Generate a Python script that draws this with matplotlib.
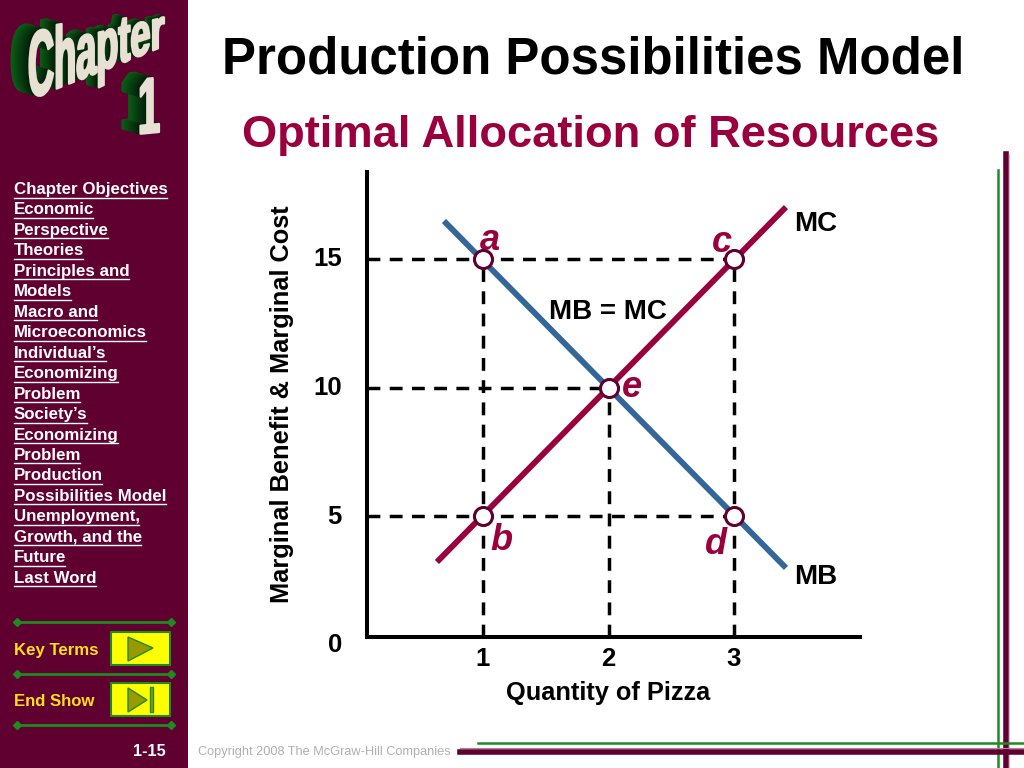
import matplotlib
matplotlib.use("Agg")
import matplotlib.pyplot as plt
import matplotlib.patheffects as pe
import matplotlib.colors as mcolors
from matplotlib.patches import Rectangle, Polygon
from matplotlib.path import Path
from matplotlib.transforms import IdentityTransform, ScaledTranslation

plt.rcParams['font.family'] = ['Liberation Sans', 'DejaVu Sans']
plt.rcParams['font.weight'] = 'bold'

# data
mc_x = [0.633, 3.414]
mc_y = [3.21, 17.02]
mb_x = [0.689, 3.414]
mb_y = [16.48, 2.98]
point_names = ['a', 'c', 'e', 'b', 'd']
point_x = [1, 3, 2, 1, 3]
point_y = [15, 15, 10, 5, 5]
x_ticks = [1, 2, 3]
y_ticks = [0, 5, 10, 15]
menu_items = ['Chapter Objectives', 'Economic', 'Perspective', 'Theories', 'Principles and',
              'Models', 'Macro and', 'Microeconomics', 'Individual\u2019s', 'Economizing',
              'Problem', 'Society\u2019s', 'Economizing', 'Problem', 'Production',
              'Possibilities Model', 'Unemployment,', 'Growth, and the', 'Future', 'Last Word']

WINE = '#5f0030'
RED = '#99003d'
BLUE = '#336699'
GREEN = '#1f8a1f'
H = 768


class Warp(pe.AbstractPathEffect):
    # bends a text into the perspective look of the logo, u runs 0..1 along the word
    def __init__(self, span, base, scale, depth, frac=0.0, color=None):
        self.span, self.base, self.scale, self.depth = span, base, scale, depth
        self.frac, self.color = frac, color

    def draw_path(self, renderer, gc, tpath, affine, rgbFace=None):
        v = affine.transform(tpath.vertices)
        u = (v[:, 0] - v[:, 0].min()) / (v[:, 0].max() - v[:, 0].min())
        y0 = affine.transform([[0, 0]])[0, 1]
        x = self.span[0] + u * (self.span[1] - self.span[0])
        b = H - (self.base[0] + u * (self.base[1] - self.base[0]))
        s = self.scale[0] + u * (self.scale[1] - self.scale[0])
        d = self.depth[0] + u * (self.depth[1] - self.depth[0])
        v[:, 0] = x - d * self.frac
        v[:, 1] = b + (v[:, 1] - y0) * s + d * 0.3 * self.frac
        col = self.color if self.color is not None else rgbFace
        # a thin outline makes the narrowed letters as heavy as the block letters
        gc0 = renderer.new_gc()
        gc0.copy_properties(gc)
        gc0.set_linewidth(1.6)
        gc0.set_foreground(col)
        renderer.draw_path(gc0, Path(v, tpath.codes), IdentityTransform(), col)
        gc0.restore()


def logo_text(label, x, y, span, base, scale, depth):
    fx = []
    for i in range(16, 0, -1):
        frac = i / 16
        col = tuple((1 - frac) * p + frac * q for p, q in zip(mcolors.to_rgb('#021c08'), mcolors.to_rgb('#0b5c16')))
        fx.append(Warp(span, base, scale, depth, frac=frac, color=col))
    fx.append(Warp(span, base, scale, depth))
    t = bg.text(x, y, label, color='#e6e1d3', fontsize=20, ha='left', va='baseline')
    t.set_path_effects(fx)


fig = plt.figure(figsize=(10.24, 7.68), dpi=100, facecolor='white')

# background layer in pixel coords
bg = fig.add_axes([0, 0, 1, 1])
bg.set_xlim(0, 1024)
bg.set_ylim(768, 0)
bg.axis('off')

bg.add_patch(Rectangle((0, 0), 188, 768, color=WINE, lw=0))

# frame lines on the right and bottom
bg.plot([997.5, 997.5], [170, 768], color=GREEN, lw=1.8)
bg.plot([1005.5, 1005.5], [154, 768], color=WINE, lw=4)
bg.plot([1009, 1009], [154, 768], color='#e8b8d0', lw=0.8)
bg.plot([478, 1024], [742.5, 742.5], color=GREEN, lw=1.8)
bg.plot([460, 1024], [752, 752], color=WINE, lw=4)
bg.plot([460, 1024], [748, 748], color='#b08098', lw=0.8)

# Chapter 1 logo
logo_text('Chapter', 40, 75, (28, 164), (100, 46), (3.5, 1.94), (18, 6))
logo_text('1', 140, 125, (138, 159), (134, 132), (2.85, 2.85), (18, 18))

# sidebar menu
fig.canvas.draw()
renderer = fig.canvas.get_renderer()
for i, item in enumerate(menu_items):
    y = 194 + i * 20.46
    t = bg.text(14, y, item, color='white', fontsize=12.2, ha='left', va='baseline')
    w = t.get_window_extent(renderer).width
    bg.plot([14, 14 + w - 1], [y + 3.5, y + 3.5], color='white', lw=1)

# sidebar separators
for y in [622, 674, 725]:
    bg.plot([17, 171], [y, y], color=GREEN, lw=2)
    bg.plot([17, 171], [y, y], color=GREEN, lw=0, marker='D', markersize=4.5)

bg.text(14, 654.5, 'Key Terms', color='#ffe01a', fontsize=12.1)
bg.text(14, 706, 'End Show', color='#ffe01a', fontsize=12.1)
bg.text(133, 756, '1-15', color='white', fontsize=11.8)

bg.add_patch(Rectangle((111, 632), 59, 33, fc='#ffff00', ec=GREEN, lw=1.5))
bg.add_patch(Polygon([(128, 637), (128, 661), (153, 648)], fc='#999900', ec=GREEN, lw=1))
bg.add_patch(Rectangle((111, 683), 59, 33, fc='#ffff00', ec=GREEN, lw=1.5))
bg.add_patch(Polygon([(128, 688), (128, 712), (147, 700)], fc='#999900', ec=GREEN, lw=1))
bg.add_patch(Rectangle((150, 687), 3, 25, fc='#999900', ec=GREEN, lw=1))

# titles
bg.text(593, 73, 'Production Possibilities Model', color='black', fontsize=36.7, ha='center', va='baseline')
bg.text(591, 147, 'Optimal Allocation of Resources', color=RED, fontsize=32.6, ha='center', va='baseline')
bg.text(198, 755, 'Copyright 2008 The McGraw-Hill Companies', color='#b0b0b0', fontsize=9.15, fontweight='normal')

# chart axes: data origin sits at pixel (357.5, 644.5), the drawn axes a bit inside it
ax = fig.add_axes([357.5 / 1024, 1 - 644.5 / 768, 502.5 / 1024, 472.5 / 768])
ax.patch.set_alpha(0)
xmax, ymax = 502.5 / 125.5, 472.5 / 25.7
x_axis_at, y_axis_at = 0.0757, 0.292
ax.set_xlim(0, xmax)
ax.set_ylim(0, ymax)
for s in ['top', 'right']:
    ax.spines[s].set_visible(False)
ax.spines['left'].set_position(('data', x_axis_at))
ax.spines['left'].set_bounds(y_axis_at, ymax)
ax.spines['bottom'].set_position(('data', y_axis_at))
ax.spines['bottom'].set_bounds(x_axis_at, xmax)
for s in ['left', 'bottom']:
    ax.spines[s].set_linewidth(2.9)
ax.set_xticks(x_ticks)
ax.set_yticks(y_ticks)
ax.tick_params(length=0, labelsize=18.5)
ax.tick_params(axis='y', pad=18)
ax.tick_params(axis='x', pad=7)
lift = ScaledTranslation(0, 2 / 100, fig.dpi_scale_trans)
for lab in ax.get_yticklabels():
    lab.set_transform(lab.get_transform() + lift)
ax.set_xlabel('Quantity of Pizza', fontsize=18.3, fontweight='bold')
ax.set_ylabel('Marginal Benefit & Marginal Cost', fontsize=18.3, fontweight='bold')
ax.xaxis.set_label_coords(0.4985, -0.077)
ax.yaxis.set_label_coords(-0.126, 0.509)

# dashed guides
dash = (0, (3.7, 2.7))
for v in [5, 10, 15]:
    ax.plot([x_axis_at, max(px for px, py in zip(point_x, point_y) if py == v)], [v, v],
            color='black', lw=2.5, ls=dash, zorder=2)
for v in x_ticks:
    ax.plot([v, v], [y_axis_at, max(py for px, py in zip(point_x, point_y) if px == v)],
            color='black', lw=2.5, ls=dash, zorder=2)

ax.plot(mc_x, mc_y, color=RED, lw=4.2, solid_capstyle='butt', zorder=3)
ax.plot(mb_x, mb_y, color=BLUE, lw=4.2, solid_capstyle='butt', zorder=4)
ax.plot(point_x, point_y, ls='none', marker='o', ms=13, mfc='white', mec=WINE, mew=2.2, zorder=5, clip_on=False)

# point letters
letter_off = {'a': (7, 18), 'c': (-12, 16), 'e': (23, 0), 'b': (18, -24), 'd': (-18, -29)}
for name, px, py in zip(point_names, point_x, point_y):
    ax.annotate(name, (px, py), xytext=letter_off[name], textcoords='offset pixels', color=RED,
                fontsize=26, fontstyle='italic', fontweight='bold', ha='center', va='center')

ax.text(3.478, 16.37, 'MC', fontsize=20, ha='left', va='center')
ax.text(3.478, 2.63, 'MB', fontsize=20, ha='left', va='center')
ax.text(1.526, 12.94, 'MB = MC', fontsize=20, ha='left', va='center')

fig.savefig('out.png', dpi=100)
